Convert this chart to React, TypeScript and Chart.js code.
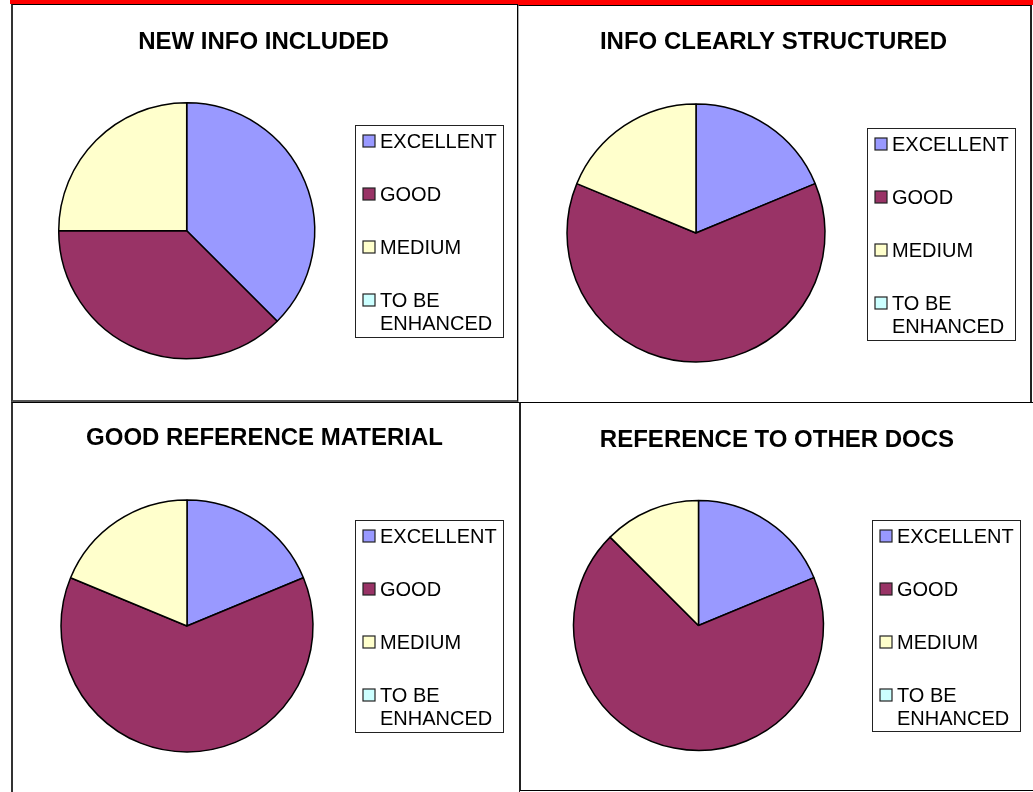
import React, { useEffect, useRef } from "react";
import { Chart, registerables } from "chart.js";

Chart.register(...registerables);

// ---------- data ----------
const categories = ["EXCELLENT", "GOOD", "MEDIUM", "TO BE ENHANCED"];
const newInfoIncluded = [6, 6, 4, 0];
const infoClearlyStructured = [3, 10, 3, 0];
const goodReferenceMaterial = [3, 10, 3, 0];
const referenceToOtherDocs = [3, 11, 2, 0];
const chartTitles = [
  "NEW INFO INCLUDED",
  "INFO CLEARLY STRUCTURED",
  "GOOD REFERENCE MATERIAL",
  "REFERENCE TO OTHER DOCS",
];
const sliceColors = ["#9999FF", "#993366", "#FFFFCC", "#CCFFFF"];

// ---------- layout (page pixel coordinates) ----------
const FONT = '"Liberation Sans", Arial, Helvetica, sans-serif';
const TITLE_SIZE = 24;
const LEGEND_SIZE = 20;
const BORDER_W = 1.5;

type Rect = { x: number; y: number; w: number; h: number };
type PanelCfg = {
  title: string;
  values: number[];
  frame: Rect;
  frameStyle: React.CSSProperties;
  canvas: Rect;
  titleX: number;
  titleY: number;
  cx: number;
  cy: number;
  r: number;
  legend: Rect;
};

const panels: PanelCfg[] = [
  {
    title: chartTitles[0],
    values: newInfoIncluded,
    frame: { x: 11, y: 4, w: 507, h: 398 },
    frameStyle: {
      borderTop: "1px solid #000",
      borderLeft: "2px solid #333",
      borderRight: "1px solid #000",
      borderBottom: "2px solid #555",
    },
    canvas: { x: 13, y: 5, w: 504, h: 395 },
    titleX: 263.5,
    titleY: 42,
    cx: 186.7,
    cy: 230.7,
    r: 128,
    legend: { x: 355, y: 125, w: 148, h: 212 },
  },
  {
    title: chartTitles[1],
    values: infoClearlyStructured,
    frame: { x: 518, y: 5, w: 514, h: 398 },
    frameStyle: {
      borderTop: "1px solid #000",
      borderLeft: "1px solid #aaa",
      borderRight: "2px solid #222",
    },
    canvas: { x: 519, y: 6, w: 510, h: 396 },
    titleX: 773.5,
    titleY: 42,
    cx: 696,
    cy: 233,
    r: 129,
    legend: { x: 867, y: 128, w: 148, h: 212 },
  },
  {
    title: chartTitles[2],
    values: goodReferenceMaterial,
    frame: { x: 11, y: 402, w: 509, h: 392 },
    frameStyle: {
      borderTop: "1px solid #000",
      borderLeft: "2px solid #333",
      borderRight: "1px solid #222",
    },
    canvas: { x: 13, y: 403, w: 506, h: 389 },
    titleX: 264.5,
    titleY: 438,
    cx: 187,
    cy: 626,
    r: 126,
    legend: { x: 355, y: 520, w: 148, h: 212 },
  },
  {
    title: chartTitles[3],
    values: referenceToOtherDocs,
    frame: { x: 519, y: 402, w: 516, h: 389 },
    frameStyle: {
      borderTop: "1px solid #000",
      borderLeft: "2px solid #222",
      borderBottom: "1px solid #000",
    },
    canvas: { x: 521, y: 403, w: 512, h: 386 },
    titleX: 777,
    titleY: 440,
    cx: 698.5,
    cy: 625.5,
    r: 125,
    legend: { x: 872, y: 520, w: 148, h: 211 },
  },
];

// ---------- helpers ----------
function wrapText(ctx: CanvasRenderingContext2D, text: string, maxW: number): string[] {
  const words = text.split(" ");
  const lines: string[] = [];
  let cur = "";
  for (const w of words) {
    const test = cur ? cur + " " + w : w;
    if (cur && ctx.measureText(test).width > maxW) {
      lines.push(cur);
      cur = w;
    } else {
      cur = test;
    }
  }
  if (cur) lines.push(cur);
  return lines;
}

// title drawn centred on the panel (not only over the chart area)
const panelTitlePlugin = {
  id: "panelTitle",
  afterDraw(chart: any, _args: any, opts: any) {
    const ctx: CanvasRenderingContext2D = chart.ctx;
    ctx.save();
    ctx.font = `bold ${TITLE_SIZE}px ${FONT}`;
    ctx.fillStyle = "#000";
    ctx.textAlign = "center";
    ctx.textBaseline = "middle";
    ctx.fillText(opts.text, opts.x, opts.y);
    ctx.restore();
  },
};

// boxed legend with wrapped labels
const boxLegendPlugin = {
  id: "boxLegend",
  afterDraw(chart: any, _args: any, opts: any) {
    const ctx: CanvasRenderingContext2D = chart.ctx;
    const { x, y, w, h } = opts;
    ctx.save();
    ctx.strokeStyle = "#222";
    ctx.lineWidth = 1;
    ctx.strokeRect(Math.round(x) + 0.5, Math.round(y) + 0.5, w, h);
    ctx.font = `${LEGEND_SIZE}px ${FONT}`;
    ctx.textBaseline = "middle";
    ctx.textAlign = "left";
    const labels: string[] = chart.data.labels;
    const colors: string[] = chart.data.datasets[0].backgroundColor;
    const swatch = 12;
    const swatchX = x + 8;
    const textX = x + 25;
    let itemY = y + 16;
    labels.forEach((lab, i) => {
      ctx.fillStyle = colors[i];
      ctx.fillRect(swatchX, Math.round(itemY - swatch / 2), swatch, swatch);
      ctx.strokeStyle = "#222";
      ctx.lineWidth = 1.2;
      ctx.strokeRect(swatchX, Math.round(itemY - swatch / 2), swatch, swatch);
      ctx.fillStyle = "#000";
      const lines = wrapText(ctx, lab, w - 25 - 4);
      lines.forEach((ln, j) => ctx.fillText(ln, textX, itemY + 1 + j * 23));
      itemY += 53;
    });
    ctx.restore();
  },
};

// ---------- one pie panel ----------
function PiePanel({ cfg }: { cfg: PanelCfg }) {
  const ref = useRef<HTMLCanvasElement | null>(null);

  useEffect(() => {
    if (!ref.current) return;
    const c = cfg.canvas;
    const half = BORDER_W / 2;
    const layoutPad = {
      top: cfg.cy - cfg.r - half - c.y,
      left: cfg.cx - cfg.r - half - c.x,
      right: c.w - (cfg.cx + cfg.r + half - c.x),
      bottom: c.h - (cfg.cy + cfg.r + half - c.y),
    };

    const chart = new Chart(ref.current, {
      type: "pie",
      data: {
        labels: categories,
        datasets: [
          {
            data: cfg.values,
            backgroundColor: sliceColors,
            borderColor: "#000",
            borderWidth: BORDER_W,
            hoverOffset: 0,
          },
        ],
      },
      options: {
        responsive: false,
        animation: false,
        devicePixelRatio: 1,
        layout: { padding: layoutPad },
        plugins: {
          legend: { display: false },
          tooltip: { enabled: false },
          title: { display: false },
          panelTitle: {
            text: cfg.title,
            x: cfg.titleX - c.x,
            y: cfg.titleY - c.y,
          },
          boxLegend: {
            x: cfg.legend.x - c.x,
            y: cfg.legend.y - c.y,
            w: cfg.legend.w,
            h: cfg.legend.h,
          },
        } as any,
      },
      plugins: [panelTitlePlugin, boxLegendPlugin],
    });
    return () => chart.destroy();
  }, [cfg]);

  const c = cfg.canvas;
  const f = cfg.frame;
  return (
    <>
      <div
        style={{
          position: "absolute",
          left: f.x,
          top: f.y,
          width: f.w,
          height: f.h,
          boxSizing: "border-box",
          background: "#fff",
          ...cfg.frameStyle,
        }}
      />
      <canvas
        ref={ref}
        width={c.w}
        height={c.h}
        style={{ position: "absolute", left: c.x, top: c.y, width: c.w, height: c.h }}
      />
    </>
  );
}

export default function App() {
  return (
    <div
      style={{
        position: "absolute",
        left: 0,
        top: 0,
        width: 1033,
        height: 792,
        overflow: "hidden",
        background: "#fff",
      }}
    >
      <div style={{ position: "absolute", left: 10, top: 0, width: 508, height: 4, background: "#ff0000" }} />
      <div style={{ position: "absolute", left: 518, top: 0, width: 515, height: 5, background: "#ff0000" }} />
      {panels.map((p, i) => (
        <PiePanel key={i} cfg={p} />
      ))}
    </div>
  );
}
